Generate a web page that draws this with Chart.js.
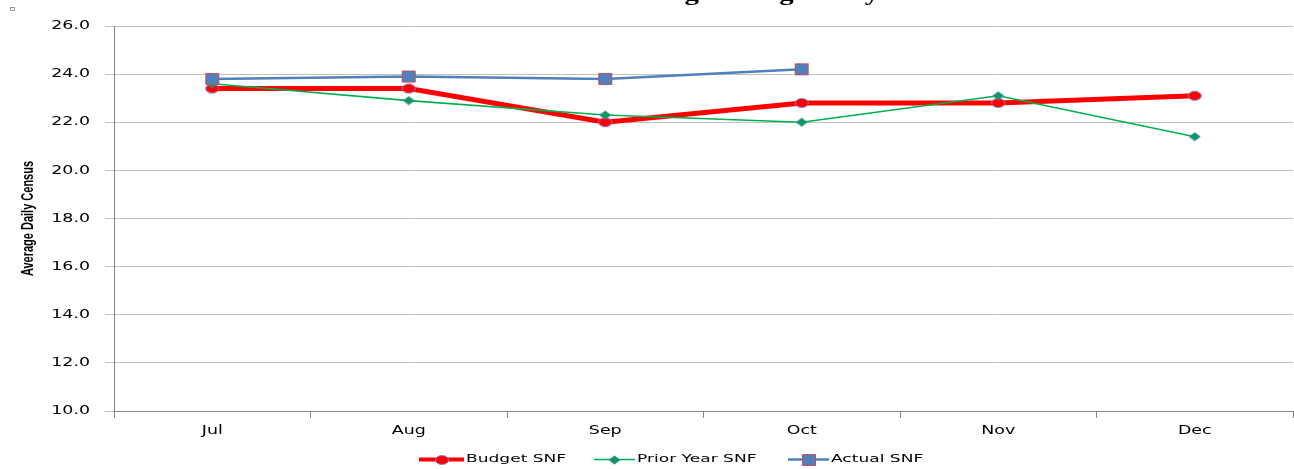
<!DOCTYPE html>
<html>
<head>
<meta charset="utf-8">
<script src="https://cdn.jsdelivr.net/npm/chart.js@4.4.1/dist/chart.umd.min.js"></script>
<style>
  html, body { margin: 0; padding: 0; background: #fff; }
  #wrap { width: 1294px; height: 469px; }
</style>
</head>
<body>
<div id="wrap"><canvas id="censusChart" width="1294" height="469"></canvas></div>
<script>
// chart values
const months = ['Jul', 'Aug', 'Sep', 'Oct', 'Nov', 'Dec'];
const budgetSnf = [23.4, 23.4, 22.0, 22.8, 22.8, 23.1];
const priorYearSnf = [23.6, 22.9, 22.3, 22.0, 23.1, 21.4];
const actualSnf = [23.8, 23.9, 23.8, 24.2, null, null];
const yMin = 10, yMax = 26, yStep = 2;

const chartTitle = 'South SNFs Skilled Nursing Average Daily Census';
const yTitle = 'Average Daily Census';

// the original picture is stretched sideways, so all text gets a horizontal scale
const STRETCH = 1.45;
const sansFont = '"DejaVu Sans", Verdana, sans-serif';

function stretchedText(ctx, text, x, y, align, font, sx) {
    ctx.save();
    ctx.translate(x, y);
    ctx.scale(sx, 1);
    ctx.font = font;
    ctx.textAlign = align;
    ctx.textBaseline = 'middle';
    ctx.fillStyle = '#000';
    ctx.fillText(text, 0, 0);
    ctx.restore();
}

function makeMarker(style, w, h, fill, stroke) {
    const c = document.createElement('canvas');
    c.width = w + 2;
    c.height = h + 2;
    const g = c.getContext('2d');
    const cx = c.width / 2, cy = c.height / 2;
    g.fillStyle = fill;
    g.strokeStyle = stroke;
    g.lineWidth = 1;
    g.beginPath();
    if (style === 'circle') {
        g.ellipse(cx, cy, w / 2 - 0.5, h / 2 - 0.5, 0, 0, Math.PI * 2);
    } else if (style === 'diamond') {
        g.moveTo(cx, cy - h / 2); g.lineTo(cx + w / 2, cy); g.lineTo(cx, cy + h / 2); g.lineTo(cx - w / 2, cy);
        g.closePath();
    } else {
        g.rect(1.5, 1.5, w - 1, h - 1);
    }
    g.fill();
    g.stroke();
    return c;
}

const budgetMarker = makeMarker('circle', 14, 10, '#ff0000', '#7f7fc8');
const priorMarker = makeMarker('diamond', 11, 8, '#00a050', '#4f81bd');
const actualMarker = makeMarker('square', 14, 12, '#4f81bd', '#c0504d');

// tick labels, axis title and the clipped chart title
const axisText = {
    id: 'axisText',
    afterDraw(chart) {
        const ctx = chart.ctx;
        const ys = chart.scales.y, xs = chart.scales.x;
        ys.ticks.forEach((t, i) => {
            stretchedText(ctx, t.value.toFixed(1), 90, ys.getPixelForTick(i), 'right', '12px ' + sansFont, STRETCH);
        });
        xs.ticks.forEach((t, i) => {
            stretchedText(ctx, months[t.value], xs.getPixelForTick(i), 431, 'center', '12px ' + sansFont, STRETCH);
        });

        ctx.save();
        ctx.translate(29, (chart.chartArea.top + chart.chartArea.bottom) / 2);
        ctx.scale(STRETCH, 1);
        ctx.rotate(-Math.PI / 2);
        ctx.font = 'bold 11px "Liberation Sans", Arial, sans-serif';
        ctx.textAlign = 'center';
        ctx.textBaseline = 'middle';
        ctx.fillStyle = '#000';
        ctx.fillText(yTitle, 0, 0);
        ctx.restore();

        ctx.save();
        ctx.translate(665, 0);
        ctx.scale(1.44, 1);
        ctx.font = 'bold 20px "Liberation Serif", "Times New Roman", serif';
        ctx.textAlign = 'center';
        ctx.textBaseline = 'alphabetic';
        ctx.fillStyle = '#000';
        ctx.fillText(chartTitle, 0, 0);
        ctx.restore();

        ctx.save();
        ctx.strokeStyle = '#9a9a9a';
        ctx.lineWidth = 1;
        ctx.strokeRect(10.5, 7.5, 4, 3);
        ctx.restore();
    }
};

// legend drawn as line + marker like the spreadsheet legend
const legendSpots = [
    { x0: 419, x1: 464, tx: 466 },
    { x0: 594, x1: 635, tx: 637 },
    { x0: 788, x1: 829, tx: 831 }
];
const lineLegend = {
    id: 'lineLegend',
    afterDraw(chart) {
        const ctx = chart.ctx;
        const y = 459.5;
        chart.data.datasets.forEach((ds, i) => {
            const s = legendSpots[i];
            ctx.save();
            ctx.strokeStyle = ds.borderColor;
            ctx.lineWidth = Math.min(ds.borderWidth, 4);
            ctx.beginPath();
            ctx.moveTo(s.x0, y);
            ctx.lineTo(s.x1, y);
            ctx.stroke();
            const m = ds.pointStyle;
            ctx.drawImage(m, Math.round((s.x0 + s.x1) / 2 - m.width / 2), Math.round(y - m.height / 2));
            ctx.restore();
            stretchedText(ctx, ds.label, s.tx, y, 'left', '11px ' + sansFont, 1.55);
        });
    }
};

const ctx = document.getElementById('censusChart').getContext('2d');
new Chart(ctx, {
    type: 'line',
    data: {
        labels: months,
        datasets: [
            {
                label: 'Budget SNF',
                data: budgetSnf,
                borderColor: '#ff0000',
                borderWidth: 5,
                pointStyle: budgetMarker,
                tension: 0,
                order: 3
            },
            {
                label: 'Prior Year SNF',
                data: priorYearSnf,
                borderColor: '#00b050',
                borderWidth: 1.6,
                pointStyle: priorMarker,
                tension: 0,
                order: 2
            },
            {
                label: 'Actual SNF',
                data: actualSnf,
                borderColor: '#4f81bd',
                borderWidth: 2.5,
                pointStyle: actualMarker,
                tension: 0,
                spanGaps: false,
                order: 1
            }
        ]
    },
    options: {
        responsive: false,
        animation: false,
        devicePixelRatio: 1,
        layout: { autoPadding: false, padding: { top: 26, right: 1, left: 0, bottom: 0 } },
        plugins: {
            legend: { display: false },
            tooltip: { enabled: false },
            title: { display: false }
        },
        scales: {
            x: {
                type: 'category',
                offset: true,
                grid: {
                    offset: true,
                    drawOnChartArea: false,
                    drawTicks: true,
                    tickLength: 7,
                    color: '#868686'
                },
                border: { color: '#868686', width: 1 },
                ticks: { display: false },
                afterFit(scale) { scale.height = 58; }
            },
            y: {
                min: yMin,
                max: yMax,
                ticks: { stepSize: yStep, display: false },
                grid: {
                    color: '#c0c0c0',
                    tickLength: 9,
                    drawTicks: true
                },
                border: { color: '#868686', width: 1 },
                afterFit(scale) { scale.width = 114; }
            }
        }
    },
    plugins: [axisText, lineLegend]
});
</script>
</body>
</html>
